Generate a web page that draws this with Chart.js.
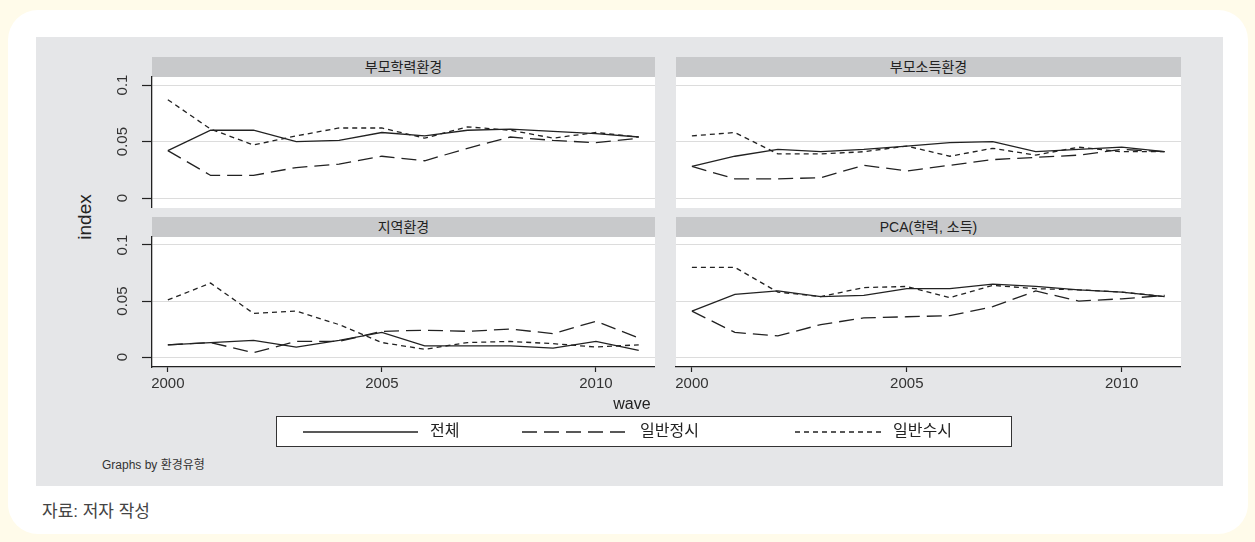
<!DOCTYPE html>
<html>
<head>
<meta charset="utf-8">
<script src="https://cdn.jsdelivr.net/npm/chart.js@4.4.1/dist/chart.umd.min.js"></script>
<style>
  body { margin: 0; background: #fffbea; width: 1255px; height: 542px; position: relative; overflow: hidden;
         font-family: 'Liberation Sans', 'Noto Sans CJK KR', sans-serif; }
  .abs { position: absolute; }
  #card { left: 8px; top: 10px; width: 1240px; height: 524px; background: #fff; border-radius: 30px; }
  #stage { left: 36px; top: 37px; width: 1187px; height: 449px; background: #e5e6e8; }
  .head { height: 20px; background: #c8c9cb; color: #222; font-size: 14px; line-height: 20px; text-align: center; }
  .plotbg { background: #fff; }
  #legend { left: 276px; top: 416px; width: 734px; height: 29px; border: 1px solid #333; background: #fff; }
  .lg { font-size: 16px; color: #222; line-height: 20px; }
</style>
</head>
<body>
<div id="card" class="abs"></div>
<div id="stage" class="abs"></div>

<div class="abs head" style="left:152px;top:57px;width:503px">부모학력환경</div>
<div class="abs head" style="left:676px;top:57px;width:505px">부모소득환경</div>
<div class="abs head" style="left:152px;top:217px;width:503px">지역환경</div>
<div class="abs head" style="left:676px;top:217px;width:505px">PCA(학력, 소득)</div>

<div class="abs plotbg" style="left:152px;top:77px;width:503px;height:131px"></div>
<div class="abs plotbg" style="left:676px;top:77px;width:505px;height:131px"></div>
<div class="abs plotbg" style="left:152px;top:237px;width:503px;height:130px"></div>
<div class="abs plotbg" style="left:676px;top:237px;width:505px;height:130px"></div>

<canvas id="c1" class="abs" width="553" height="143" style="left:102px;top:65px"></canvas>
<canvas id="c2" class="abs" width="525" height="143" style="left:656px;top:65px"></canvas>
<canvas id="c3" class="abs" width="553" height="171" style="left:102px;top:225px"></canvas>
<canvas id="c4" class="abs" width="525" height="171" style="left:656px;top:225px"></canvas>

<div class="abs" style="left:60px;top:207px;width:50px;height:20px;font-size:19px;color:#222;text-align:center;line-height:20px;transform:rotate(-90deg)">index</div>
<div class="abs" style="left:600px;top:395px;width:64px;text-align:center;font-size:16px;color:#222;line-height:18px">wave</div>

<div id="legend" class="abs">
  <svg class="abs" style="left:0;top:0" width="734" height="29">
    <line x1="26" y1="15" x2="141" y2="15" stroke="#222" stroke-width="1.3"/>
    <line x1="245" y1="15" x2="352" y2="15" stroke="#222" stroke-width="1.3" stroke-dasharray="15 7"/>
    <line x1="518" y1="15" x2="604" y2="15" stroke="#222" stroke-width="1.3" stroke-dasharray="5 4"/>
  </svg>
  <div class="abs lg" style="left:153px;top:4px" id="lg0"></div>
  <div class="abs lg" style="left:363px;top:4px" id="lg1"></div>
  <div class="abs lg" style="left:616px;top:4px" id="lg2"></div>
</div>

<div class="abs" style="left:102px;top:455px;font-size:12px;color:#333">Graphs by 환경유형</div>
<div class="abs" style="left:42px;top:497px;font-size:17px;color:#444">자료: 저자 작성</div>

<script>
const years = [2000, 2001, 2002, 2003, 2004, 2005, 2006, 2007, 2008, 2009, 2010, 2011];
const seriesNames = ['전체', '일반정시', '일반수시'];
const yTicks = [0, 0.05, 0.1];
const xTicks = [2000, 2005, 2010];

// 부모학력환경
const eduTotal   = [0.042, 0.060, 0.060, 0.050, 0.051, 0.058, 0.055, 0.060, 0.061, 0.059, 0.057, 0.054];
const eduRegular = [0.042, 0.020, 0.020, 0.027, 0.030, 0.037, 0.033, 0.044, 0.054, 0.051, 0.049, 0.053];
const eduRolling = [0.087, 0.061, 0.047, 0.055, 0.062, 0.062, 0.053, 0.063, 0.060, 0.053, 0.058, 0.054];

// 부모소득환경
const incTotal   = [0.028, 0.037, 0.043, 0.041, 0.043, 0.046, 0.049, 0.050, 0.041, 0.043, 0.045, 0.041];
const incRegular = [0.028, 0.017, 0.017, 0.018, 0.029, 0.024, 0.029, 0.034, 0.036, 0.038, 0.043, 0.041];
const incRolling = [0.055, 0.058, 0.039, 0.039, 0.041, 0.046, 0.037, 0.044, 0.038, 0.045, 0.041, 0.041];

// 지역환경
const regTotal   = [0.011, 0.013, 0.015, 0.009, 0.015, 0.022, 0.010, 0.010, 0.010, 0.008, 0.014, 0.006];
const regRegular = [0.011, 0.013, 0.004, 0.014, 0.014, 0.023, 0.024, 0.023, 0.025, 0.021, 0.032, 0.017];
const regRolling = [0.051, 0.066, 0.039, 0.041, 0.029, 0.013, 0.007, 0.013, 0.014, 0.012, 0.009, 0.011];

// PCA(학력, 소득)
const pcaTotal   = [0.041, 0.056, 0.059, 0.054, 0.055, 0.061, 0.061, 0.065, 0.063, 0.060, 0.058, 0.054];
const pcaRegular = [0.041, 0.022, 0.019, 0.029, 0.035, 0.036, 0.037, 0.045, 0.059, 0.050, 0.052, 0.055];
const pcaRolling = [0.080, 0.080, 0.058, 0.054, 0.062, 0.063, 0.053, 0.064, 0.061, 0.060, 0.058, 0.054];

Chart.defaults.font.family = "'Liberation Sans', 'Noto Sans CJK KR', sans-serif";

for (let i = 0; i < seriesNames.length; i++) {
    document.getElementById('lg' + i).textContent = seriesNames[i];
}

const dashes = [[], [15, 7], [5, 4]];

function toPoints(values) {
    return years.map(function(yr, i) { return {x: yr, y: values[i]}; });
}

function makePanel(id, total, regular, rolling, showX, showY) {
    const sets = [total, regular, rolling];
    const datasets = sets.map(function(vals, i) {
        return {
            label: seriesNames[i],
            data: toPoints(vals),
            borderColor: '#222',
            borderWidth: 1.3,
            borderDash: dashes[i],
            pointRadius: 0,
            tension: 0,
            fill: false
        };
    });

    return new Chart(document.getElementById(id), {
        type: 'line',
        data: { datasets: datasets },
        options: {
            responsive: false,
            animation: false,
            layout: { padding: { top: 12, left: 0, right: 0, bottom: 0 } },
            plugins: { legend: { display: false }, tooltip: { enabled: false } },
            scales: {
                x: {
                    type: 'linear',
                    min: 1999.63,
                    max: 2011.38,
                    display: showX,
                    afterBuildTicks: function(s) { s.ticks = xTicks.map(function(v) { return {value: v}; }); },
                    afterFit: function(s) { s.height = showX ? 29 : 0; s.paddingLeft = 0; s.paddingRight = 0; },
                    grid: { drawOnChartArea: false, drawTicks: true, tickLength: 5, tickColor: '#222', tickWidth: 1.2 },
                    border: { display: true, color: '#222', width: 1.3 },
                    ticks: { padding: 3, maxRotation: 0, minRotation: 0, color: '#333', font: { size: 15 },
                             callback: function(v) { return String(v); } }
                },
                y: {
                    type: 'linear',
                    min: -0.0088,
                    max: 0.1071,
                    afterBuildTicks: function(s) { s.ticks = yTicks.map(function(v) { return {value: v}; }); },
                    afterFit: function(s) { s.width = showY ? 50 : 20; s.paddingTop = 0; s.paddingBottom = 0; },
                    grid: { color: '#dcdcdc', lineWidth: 1, drawTicks: showY, tickLength: 10, tickColor: '#222', tickWidth: 1.2 },
                    border: { display: showY, color: '#222', width: 1.3 },
                    ticks: { display: showY, minRotation: 90, maxRotation: 90, crossAlign: 'center', padding: 5,
                             color: '#333', font: { size: 15 },
                             callback: function(v) { return String(v); } }
                }
            }
        }
    });
}

makePanel('c1', eduTotal, eduRegular, eduRolling, false, true);
makePanel('c2', incTotal, incRegular, incRolling, false, false);
makePanel('c3', regTotal, regRegular, regRolling, true, true);
makePanel('c4', pcaTotal, pcaRegular, pcaRolling, true, false);
</script>
</body>
</html>
